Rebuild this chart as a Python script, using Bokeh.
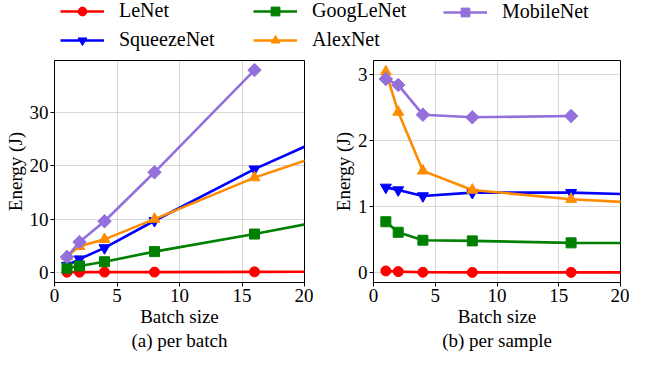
from bokeh.plotting import figure
from bokeh.models import Range1d, FixedTicker, Legend, LegendItem, ColumnDataSource
from bokeh.layouts import column, row
from bokeh.embed import file_html
from bokeh.resources import INLINE

# ---------------- data ----------------
batch = [1, 2, 4, 8, 16, 32]
batch_mobile = [1, 2, 4, 8, 16]

names = ["LeNet", "SqueezeNet", "GoogLeNet", "AlexNet", "MobileNet"]

# (a) energy per batch (J)
lenet_batch = [0.03, 0.04, 0.05, 0.05, 0.1, 0.2]
squeeze_batch = [1.3, 2.5, 4.6, 9.7, 19.4, 36.2]
googlenet_batch = [0.78, 1.2, 2.0, 3.9, 7.2, 14.4]
alexnet_batch = [3.0, 4.9, 6.2, 10.0, 17.8, 30.4]
mobilenet_batch = [2.9, 5.7, 9.6, 18.8, 38.0]

# (b) energy per sample (J)
lenet_sample = [0.025, 0.015, 0.005, 0.003, 0.003, 0.003]
squeeze_sample = [1.29, 1.25, 1.16, 1.21, 1.21, 1.13]
googlenet_sample = [0.77, 0.61, 0.49, 0.48, 0.45, 0.44]
alexnet_sample = [3.04, 2.43, 1.54, 1.25, 1.11, 0.95]
mobilenet_sample = [2.93, 2.84, 2.39, 2.35, 2.37]

x_ticks = [0, 5, 10, 15, 20]
y_ticks_a = [0, 10, 20, 30]
y_ticks_b = [0, 1, 2, 3]

colors = ["#ff0000", "#0000ff", "#008000", "#ff8c00", "#9370db"]
markers = ["circle", "inverted_triangle", "square", "triangle", "square"]
angles = [0, 0, 0, 0, 0.785398]
msizes = [10, 11, 10, 11, 9.5]

FONT = "Liberation Serif"
FS = "19px"

series_a = [lenet_batch, squeeze_batch, googlenet_batch, alexnet_batch, mobilenet_batch]
series_b = [lenet_sample, squeeze_sample, googlenet_sample, alexnet_sample, mobilenet_sample]
xs = [batch, batch, batch, batch, batch_mobile]


def panel(ys_list, yr, yticks, caption, border_left, border_right, width):
    p = figure(width=width, height=301, x_range=Range1d(0, 20), y_range=Range1d(*yr),
               min_border_left=border_left, min_border_right=border_right,
               min_border_top=8, min_border_bottom=0,
               output_backend="svg", toolbar_location=None)
    p.background_fill_color = "white"
    p.border_fill_color = "white"
    p.outline_line_color = "black"
    p.outline_line_width = 1
    p.xaxis.ticker = FixedTicker(ticks=x_ticks)
    p.yaxis.ticker = FixedTicker(ticks=yticks)
    p.xaxis.axis_label = "Batch size\n" + caption
    p.yaxis.axis_label = "Energy (J)"
    p.xaxis.axis_label_text_line_height = 1.15
    for ax in (p.xaxis, p.yaxis):
        ax.axis_line_color = "black"
        ax.major_tick_line_color = "black"
        ax.major_tick_out = 4
        ax.major_tick_in = 0
        ax.minor_tick_line_color = None
        ax.major_label_text_font = FONT
        ax.major_label_text_font_size = FS
        ax.major_label_text_color = "black"
        ax.axis_label_text_font = FONT
        ax.axis_label_text_font_size = FS
        ax.axis_label_text_font_style = "normal"
        ax.axis_label_text_color = "black"
        ax.major_label_standoff = 2
        ax.axis_label_standoff = 1
    p.grid.grid_line_color = "#b0b0b0"
    p.grid.grid_line_dash = "1 1"
    p.grid.grid_line_width = 1
    for ys, xv, c, m, a, s in zip(ys_list, xs, colors, markers, angles, msizes):
        src = ColumnDataSource(dict(x=xv, y=ys))
        p.line("x", "y", source=src, line_color=c, line_width=2.6)
        p.scatter("x", "y", source=src, marker=m, angle=a, size=s,
                  fill_color=c, line_color=c)
    return p


left = panel(series_a, (-1.9, 39.8), y_ticks_a, "(a) per batch", 54, 9, 313)
right = panel(series_b, (-0.15, 3.21), y_ticks_b, "(b) per sample", 60, 9, 316)

# ---------------- legend strip ----------------
leg = figure(width=629, height=52, x_range=Range1d(0, 1), y_range=Range1d(0, 1),
             min_border=0, output_backend="svg", toolbar_location=None)
leg.axis.visible = False
leg.grid.visible = False
leg.outline_line_color = None
leg.background_fill_color = "white"
leg.border_fill_color = "white"

items = []
for name, c, m, a in zip(names, colors, markers, angles):
    src = ColumnDataSource(dict(x=[-10], y=[-10]))
    lr = leg.line("x", "y", source=src, line_color=c, line_width=2.6)
    sr = leg.scatter("x", "y", source=src, marker=m, angle=a, size=10,
                     fill_color=c, line_color=c)
    items.append(LegendItem(label=name, renderers=[lr, sr]))

groups = [([items[0], items[1]], (60, 1)), ([items[2], items[3]], (253, 1)), ([items[4]], (443, 29))]
for its, loc in groups:
    lg = Legend(items=its, location=loc, orientation="vertical",
                border_line_color=None, background_fill_alpha=0,
                padding=0, margin=0, spacing=6,
                glyph_width=44, glyph_height=22, label_height=22,
                label_standoff=15, label_text_font=FONT, label_text_font_size="20px",
                label_text_color="black")
    leg.add_layout(lg)

layout = column(leg, row(left, right))

open("out.html", "w").write(file_html(layout, INLINE))
